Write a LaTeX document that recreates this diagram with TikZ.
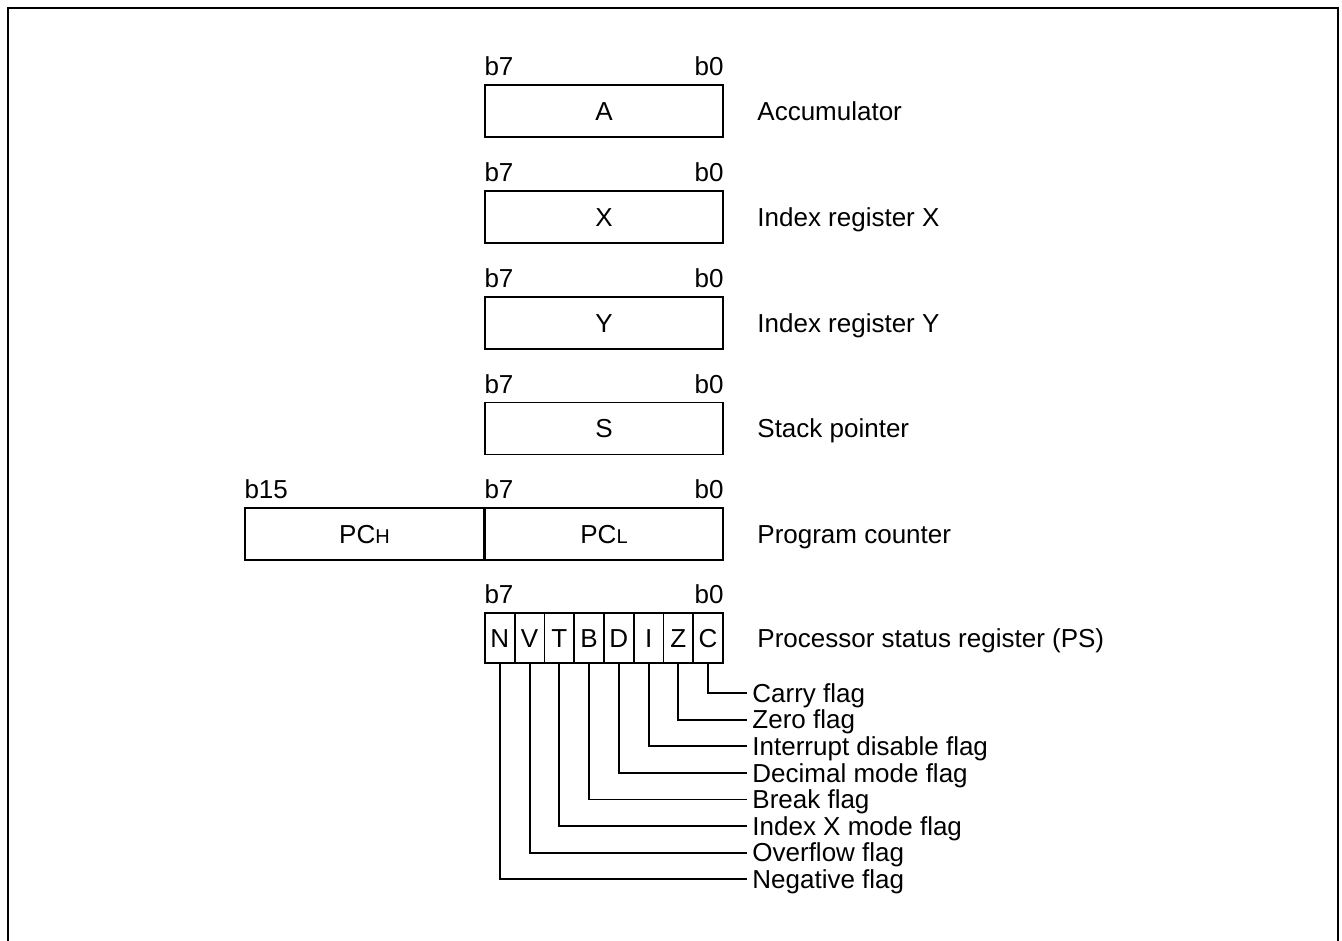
\documentclass[tikz,border=0pt]{standalone}
\usepackage{fontspec}
\setmainfont{Liberation Sans}
\usetikzlibrary{calc}
\begin{document}
\begin{tikzpicture}[x=0.5pt,y=-0.5pt,
  font=\fontsize{13}{15.6}\selectfont,
  reg/.style={draw,line width=0.9pt,inner sep=0pt,minimum height=26pt,text height=9.3pt,text depth=0pt},
  cell/.style={draw,line width=0.9pt,inner sep=0pt,minimum width=14.875pt,minimum height=25pt,text height=9.3pt,text depth=0pt},
  rlbl/.style={anchor=west,inner sep=0pt,text height=9.3pt,text depth=0pt},
  bit/.style={inner sep=0pt},
  flbl/.style={anchor=west,inner xsep=2.5pt,inner ysep=0pt,text height=9.3pt,text depth=0pt},
  conn/.style={line width=0.9pt}]
\useasboundingbox (0,0) rectangle (1342,941);
\clip (0,0) rectangle (1342,941);
\draw[line width=1.4pt] (8,8) rectangle (1338,1000);
% simple registers
\foreach \n/\t/\cy/\d in {A/A/111/Accumulator, X/X/217/Index register X, Y/Y/323/Index register Y, S/S/428.5/Stack pointer}{
  \node[reg,minimum width=119pt] (r\n) at (604,\cy) {\t};
  \node[bit,anchor=base west] (r\n b7) at ($(r\n.north west)+(0,-8.5)$) {b7};
  \node[bit,anchor=base east] (r\n b0) at ($(r\n.north east)+(0,-8.5)$) {b0};
  \node[rlbl] (d\n) at (757,\cy) {\d};
}
% program counter
\node[reg,minimum width=119.5pt] (pch) at (364.5,534) {PC{\fontsize{10}{12}\selectfont H}};
\node[reg,minimum width=119pt] (pcl) at (604,534) {PC{\fontsize{10}{12}\selectfont L}};
\node[bit,anchor=base west] (pcb15) at ($(pch.north west)+(0,-8.5)$) {b15};
\node[bit,anchor=base west] (pcb7) at ($(pcl.north west)+(0,-8.5)$) {b7};
\node[bit,anchor=base east] (pcb0) at ($(pcl.north east)+(0,-8.5)$) {b0};
\node[rlbl] (dpc) at (757,534) {Program counter};
% processor status register
\foreach \l [count=\i from 0] in {N,V,T,B,D,I,Z,C}{
  \node[cell] (c\l) at ({485+29.75*(\i+0.5)},638) {\l};
}
\node[bit,anchor=base west] (psb7) at ($(cN.north west)+(0,-8.5)$) {b7};
\node[bit,anchor=base east] (psb0) at ($(cC.north east)+(0,-8.5)$) {b0};
\node[rlbl] (dps) at (757,638) {Processor status register (PS)};
% flags
\foreach \l/\t/\k in {C/Carry flag/0, Z/Zero flag/1, I/Interrupt disable flag/2, D/Decimal mode flag/3, B/Break flag/4, T/Index X mode flag/5, V/Overflow flag/6, N/Negative flag/7}{
  \node[flbl] (f\l) at (747,{693+26.6*\k}) {\t};
  \draw[conn] (c\l.south) |- (f\l.west);
}
\end{tikzpicture}
\end{document}
